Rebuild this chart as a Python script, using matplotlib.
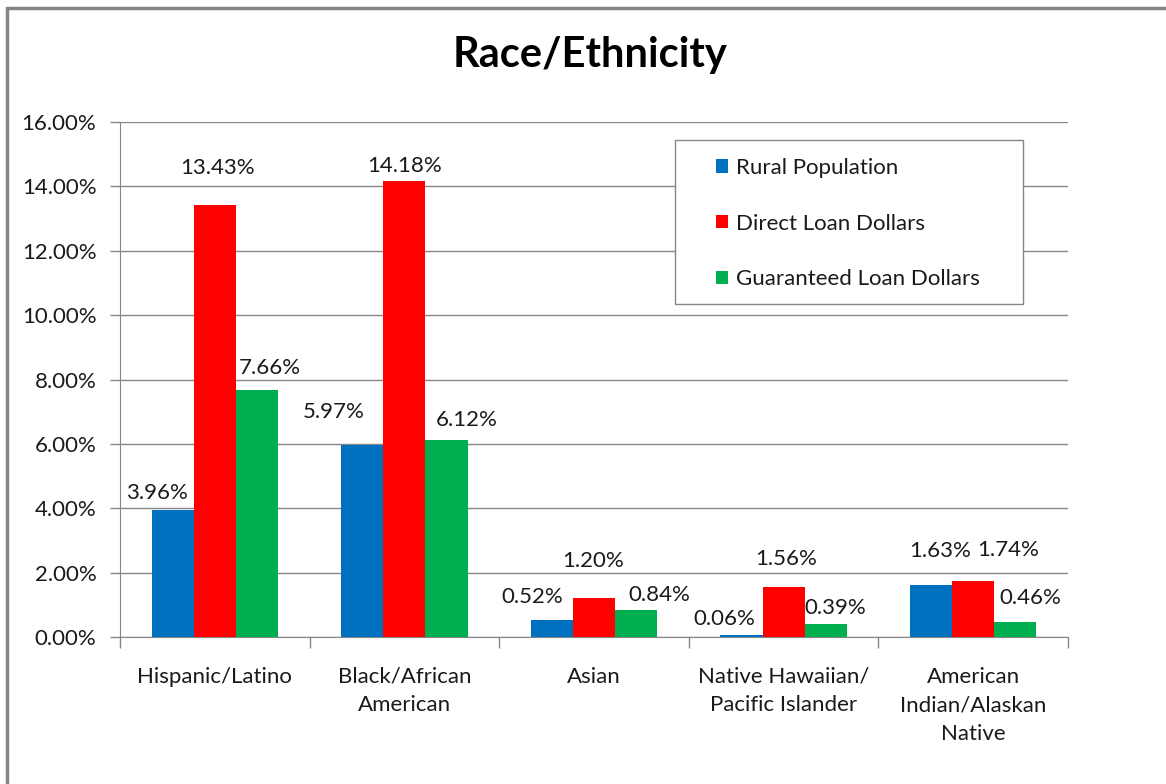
import matplotlib.pyplot as plt
import numpy as np
from matplotlib.patches import Rectangle

categories = ['Hispanic/Latino', 'Black/African\nAmerican', 'Asian',
              'Native Hawaiian/\nPacific Islander', 'American\nIndian/Alaskan\nNative']
rural = [3.96, 5.97, 0.52, 0.06, 1.63]
direct = [13.43, 14.18, 1.20, 1.56, 1.74]
guaranteed = [7.66, 6.12, 0.84, 0.39, 0.46]
series_names = ['Rural Population', 'Direct Loan Dollars', 'Guaranteed Loan Dollars']
colors = ['#0070C0', '#FF0000', '#00B050']

# label offsets (pixels, dx / dy from bar top) to mimic the hand-placed excel labels
offs = [
    [(-16, 17), (-29, 33), (-20, 23), (-17, 16), (9, 34)],
    [(3, 37), (0, 15), (-1, 37), (3, 28), (35, 31)],
    [(13, 22), (20, 20), (23, 15), (10, 16), (15, 24)],
]

font = 'Lato'
plt.rcParams['font.family'] = [font, 'DejaVu Sans']
fs = 16

fig = plt.figure(figsize=(11.66, 7.84), dpi=100)
W, H = 1166, 784
ax = fig.add_axes([120 / W, 1 - 637 / H, (1068 - 120) / W, (637 - 122) / H])

# outer chart border (only top/left visible in the crop)
fig.patches.append(Rectangle((7 / W, -0.1), 1.2, 1 - 8 / H + 0.1, transform=fig.transFigure,
                             fill=False, edgecolor='#868686', linewidth=2.5))

x = np.arange(len(categories))
bw = 1 / 4.5
for k, vals in enumerate([rural, direct, guaranteed]):
    pos = x + (k - 1) * bw
    ax.bar(pos, vals, width=bw, color=colors[k], label=series_names[k], zorder=3)
    for j, v in enumerate(vals):
        dx, dy = offs[k][j]
        ax.annotate('{:.2f}%'.format(v), xy=(pos[j], v), xytext=(dx, dy),
                    textcoords='offset pixels', ha='center', va='center',
                    fontsize=fs, color='#1a1a1a')

ax.set_xlim(-0.5, len(categories) - 0.5)
ax.set_ylim(0, 16)
ax.set_yticks(np.arange(0, 17, 2))
ax.set_yticklabels(['{:.2f}%'.format(t) for t in np.arange(0, 17, 2)], fontsize=fs, color='#1a1a1a')
ax.yaxis.grid(True, color='#868686', linewidth=1, zorder=0)
ax.set_axisbelow(True)
ax.set_xticks(np.arange(-0.5, len(categories), 1))
ax.set_xticklabels([])
ax.tick_params(axis='x', length=8, color='#868686', width=1)
ax.tick_params(axis='y', length=7, color='#868686', width=1, pad=10)
for j, c in enumerate(categories):
    ax.text(j, -0.92, c, ha='center', va='top', fontsize=fs, color='#1a1a1a',
            linespacing=1.55, transform=ax.transData)
for s in ['top', 'right']:
    ax.spines[s].set_visible(False)
for s in ['left', 'bottom']:
    ax.spines[s].set_color('#868686')

fig.text(590 / W, 1 - 55 / H, 'Race/Ethnicity', ha='center', va='center',
         fontsize=30, fontweight='bold')

# legend box drawn separately (excel has wider side padding than top)
ax.add_patch(Rectangle(((675 - 120) / 948, 1 - (304 - 122) / 515), (1023 - 675) / 948, (304 - 140) / 515,
                       transform=ax.transAxes, facecolor='white', edgecolor='#868686',
                       linewidth=1, zorder=4))
leg = ax.legend(loc='upper left', bbox_to_anchor=((716 - 120) / 948, 1 - (158 - 122) / 515),
                fontsize=fs, frameon=False,
                handlelength=0.55, handleheight=0.55, handletextpad=0.35,
                labelspacing=1.6, borderpad=0, borderaxespad=0)
for t in leg.get_texts():
    t.set_color('#1a1a1a')
leg.set_zorder(5)

fig.savefig('out.png', dpi=100)
